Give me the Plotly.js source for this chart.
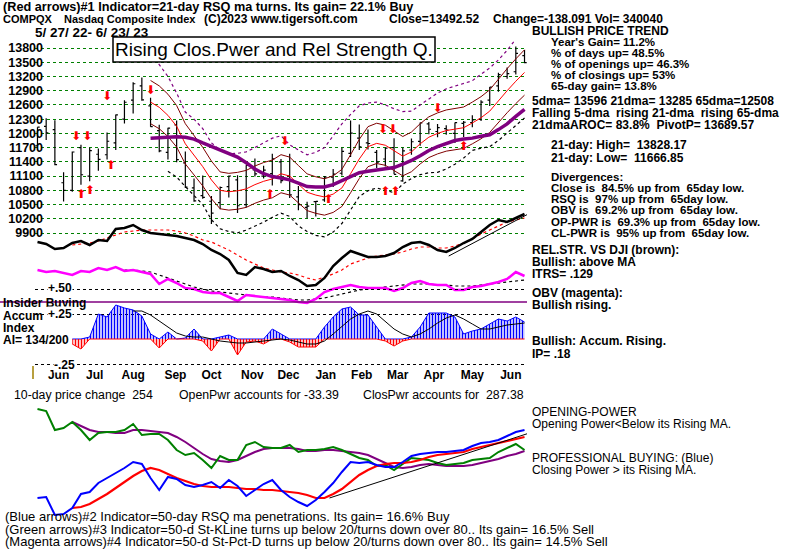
<!DOCTYPE html>
<html><head><meta charset="utf-8">
<script src="https://cdn.plot.ly/plotly-3.0.1.min.js"></script>
<style>html,body{margin:0;padding:0;background:#fff}#chart{width:800px;height:549px}</style>
</head><body><div id="chart"></div>
<script>
// ---------- DATA (weekly readings, week ending Friday) ----------
const weeks = ['2022-05-27','2022-06-03','2022-06-10','2022-06-17','2022-06-24','2022-07-01','2022-07-08','2022-07-15','2022-07-22','2022-07-29',
'2022-08-05','2022-08-12','2022-08-19','2022-08-26','2022-09-02','2022-09-09','2022-09-16','2022-09-23','2022-09-30','2022-10-07',
'2022-10-14','2022-10-21','2022-10-28','2022-11-04','2022-11-11','2022-11-18','2022-11-25','2022-12-02','2022-12-09','2022-12-16',
'2022-12-23','2022-12-30','2023-01-06','2023-01-13','2023-01-20','2023-01-27','2023-02-03','2023-02-10','2023-02-17','2023-02-24',
'2023-03-03','2023-03-10','2023-03-17','2023-03-24','2023-03-31','2023-04-07','2023-04-14','2023-04-21','2023-04-28','2023-05-05',
'2023-05-12','2023-05-19','2023-05-26','2023-06-02','2023-06-09','2023-06-16','2023-06-23'];
const priceOpen = [11740,12150,12080,10960,10800,11700,11100,11560,11550,11800,12300,12700,13000,12580,12060,11600,12180,11380,10850,10690,10570,10540,10880,11020,10500,11230,11100,11150,11400,11100,10660,10440,10560,10600,11080,11160,11580,11900,11800,11600,11460,11700,11000,11650,11830,12200,12040,12100,12000,12210,12230,12300,12700,13000,13200,13300,13640];
const priceHigh = [12131,12320,12275,11180,11620,11760,11700,11680,12020,12400,12700,13080,13181,12750,12180,12120,12270,11620,11050,11115,10680,10880,11110,11120,11330,11470,11320,11570,11460,11570,10890,10560,10570,11100,11250,11700,12270,12190,12080,11650,11700,11900,11700,11890,12230,12240,12200,12170,12230,12260,12380,12700,12980,13280,13390,13830,13760];
const priceLow = [11740,11860,11330,10565,10770,10920,10990,11215,11450,11650,12210,12420,12690,12140,11600,11450,11390,10850,10560,10620,10090,10400,10650,10320,10440,11090,11050,10900,10950,10640,10380,10210,10250,10560,10870,11110,11500,11650,11660,11270,11300,11140,10980,11550,11740,11980,11920,11970,11800,11925,12130,12260,12580,12880,13150,13240,13480];
const priceClose = [12131,12013,11340,10798,11608,11128,11635,11452,11834,12391,12657,13047,12705,12142,11631,12112,11448,10868,10576,10652,10321,10860,11102,10475,11324,11146,11226,11462,11005,10705,10498,10466,10569,11079,11140,11622,12007,11718,11787,11395,11689,11138,11631,11824,12222,12088,12123,12072,12227,12235,12284,12658,12975,13241,13259,13689,13492];
const N13 = [null,null,null,null,null,null,null,null,null,null,null,null,null];
const ma21 = N13.concat([12660,12550,12380,12150,11780,11550,11300,11020,10800,10770,10790,10830,10920,10990,11040,11150,11100,10930,10760,10700,10660,10720,10850,11150,11460,11720,11790,11750,11640,11520,11610,11780,11920,12000,12060,12090,12120,12220,12330,12470,12690,12900,13100,13285]);
const ma65 = N13.concat([11900,11910,11920,11930,11920,11880,11800,11720,11650,11580,11500,11380,11250,11150,11090,11060,11020,10950,10880,10870,10870,10920,11000,11100,11170,11200,11230,11260,11280,11350,11430,11530,11640,11720,11790,11850,11880,11900,11940,11970,12080,12200,12360,12508]);
const bandUpperOuter = N13.concat([13650,13450,13200,12850,12450,12300,12100,11800,11650,11570,11580,11610,11700,11800,11900,11950,11760,11650,11550,11600,11700,11950,12200,12400,12580,12640,12660,12600,12520,12460,12470,12600,12720,12850,12940,13000,13050,13110,13250,13380,13550,13750,13990,14050]);
const bandLowerOuter = N13.concat([null,null,11200,11080,10880,10700,10500,10180,9990,9930,9905,9960,10040,10130,10230,10320,10250,10050,9930,9850,9820,9920,10100,10400,10670,10790,10850,10800,10750,10930,11050,11130,11170,11180,11250,11350,11480,11640,11690,11720,11850,12010,12170,12324]);
const innerBandPct = 0.036;
const priceTicks = [9900,10200,10500,10800,11100,11400,11700,12000,12300,12600,12900,13200,13500,13800];
// relative strength vs DJI (arbitrary index units) and its MA
const relStr = [58,56,51,52,57,59,55,60,59,71,72,75,70,67,66,65,64,62,60,56,50,46,40,27,25,33,31,28,29,24,20,14,15,22,34,42,49,46,43,43,44,47,53,57,58,55,50,48,52,57,61,68,75,80,78,82,86];
const relStrMA = [null,null,null,null,55,56,57,59,62,65,68,69,70,70,70,70,69,67,64,60,58,54,50,45,40,36,32,30,28,27,25,22,20,23,26,30,36,39,42,44,45,46,48,51,53,53,52,52,54,57,61,66,70,74,78,80,82];
const relStrTrendDates = ['2023-04-23','2023-06-26'];
const relStrTrend = [44,86];
// OBV (magenta, arbitrary index units) and its MA
const obv = [30,28,29,27,25,29,28,32,30,33,29,30,28,26,16,21,17,12,11,8,7,7,3,-1,5,4,3,2,1,0,-2,-3,1,8,11,13,15,13,12,12,12,9,12,17,19,16,15,15,10,10,13,14,16,18,21,28,24];
const obvMA = [null,null,null,null,null,null,null,null,null,null,30,30,29,28,25,22,19,16,13,11,9,8,7,6,5,4,3,3,2,1,0,0,1,2,4,6,8,10,11,12,13,14,15,16,16,16,15,15,14,14,14,15,16,17,18,19,20];
// Accumulation index
const accum = [null,null,null,null,-0.05,-0.1,0.02,0.25,0.22,0.34,0.31,0.29,0.23,0.05,-0.09,0.07,0.0,0.01,0.1,-0.02,-0.12,0.02,0.04,-0.16,-0.03,-0.02,-0.05,0.1,0.05,-0.03,-0.08,-0.08,-0.08,0.12,0.22,0.3,0.32,0.24,0.24,0.12,-0.02,-0.07,-0.02,0.02,0.12,0.26,0.26,0.26,0.22,0.05,0.08,0.1,0.15,0.2,0.18,0.22,0.17];
const accumMA = [null,null,null,null,null,null,null,null,null,null,null,0.28,0.28,0.24,0.18,0.12,0.06,0.03,0.02,0.02,0.0,-0.02,-0.03,-0.04,-0.04,-0.03,-0.02,-0.01,0.0,-0.01,-0.03,-0.05,-0.05,-0.02,0.05,0.13,0.2,0.25,0.28,0.25,0.17,0.1,0.05,0.02,0.05,0.1,0.16,0.21,0.24,0.2,0.15,0.1,0.1,0.12,0.14,0.15,0.16];
const insiderLevel = 0.37;
// Opening / closing power (arbitrary index units)
const openPwr = [91,89,70,72,78,70,60,67,68,68,70,76,65,66,66,60,50,45,47,40,32,44,40,40,55,58,53,52,52,55,48,50,50,51,53,50,46,42,40,34,35,30,36,42,41,40,37,35,36,37,40,41,42,48,52,56,50];
const openPwrMA = [null,null,null,null,78,74,70,68,68,67,67,70,70,69,68,67,63,58,52,46,41,39,38,40,44,48,51,52,52,52,51,49,49,50,50,49,48,47,45,41,37,33,32,33,35,36,35,34,34,34,35,37,39,41,44,46,49];
const closePwr = [2,3,-15,-14,-8,6,8,17,22,27,32,38,36,22,10,23,21,15,13,15,18,12,20,14,4,10,16,20,10,3,-2,-6,0,8,17,28,38,37,38,35,33,33,38,44,46,47,48,48,49,50,54,57,58,60,64,68,70];
const closePwrMA = [null,null,null,null,-8,-7,-4,1,6,12,18,24,29,32,30,26,22,19,16,14,13,13,13,12,11,11,10,10,9,8,7,5,2,2,6,11,18,25,30,34,36,37,37,38,40,43,45,46,47,48,51,53,55,57,59,61,63];
const pwrTrendDates = ['2023-01-17','2023-06-27'];
const pwrTrend = [2,67];
// signal arrows
const sellDates = ['2022-06-27','2022-07-06','2022-07-22','2022-08-26','2022-12-12','2023-03-01','2023-03-09','2023-04-14'];
const sellPrices = [11924,11924,12767,12894,11818,12071,12071,12514];
const buyDates = ['2022-07-01','2022-07-08','2022-07-25','2022-11-30','2023-01-16','2023-03-03','2023-03-11','2023-05-05'];
const buyPrices = [10701,10786,11313,10701,10596,10765,10765,11713];
const monthTickDates = ['2022-06-13','2022-07-12','2022-08-12','2022-09-15','2022-10-14','2022-11-16','2022-12-15','2023-01-14','2023-02-12','2023-03-13','2023-04-11','2023-05-12','2023-06-12'];
const monthLabels = ['Jun','Jul','Aug','Sep','Oct','Nov','Dec','Jan','Feb','Mar','Apr','May','Jun'];

// ---------- FIGURE ----------
const W = 800, H = 549;
const FONT = 'Liberation Sans, Arial, sans-serif';
const py = y => 1 - y / H;
const bandUp = ma21.map(v => v == null ? null : v * (1 + innerBandPct));
const bandDn = ma21.map(v => v == null ? null : v * (1 - innerBandPct));
const accPos = accum.map(v => v == null ? null : Math.max(v, 0));
const accNeg = accum.map(v => v == null ? null : Math.min(v, 0));

const L = (y, color, width, yaxis, dash) => ({type:'scatter', mode:'lines', x:weeks, y, yaxis, xaxis:'x',
  line:{color, width, dash: dash || 'solid'}, hoverinfo:'skip'});

const traces = [
  L(bandUpperOuter, '#800080', 1.2, 'y', 'dot'),
  L(bandLowerOuter, '#000000', 1.2, 'y', 'dot'),
  L(bandUp, '#800000', 1, 'y'),
  L(bandDn, '#800000', 1, 'y'),
  L(ma21, '#ff0000', 1, 'y'),
  L(ma65, '#800080', 3.5, 'y'),
  {type:'ohlc', x:weeks, open:priceOpen, high:priceHigh, low:priceLow, close:priceClose, xaxis:'x', yaxis:'y',
   increasing:{line:{color:'#000', width:1.2}}, decreasing:{line:{color:'#000', width:1.2}}, tickwidth:0.25, hoverinfo:'skip'},
  L(relStrMA, '#ff0000', 1.2, 'y2', 'dot'),
  L(relStr, '#000000', 2.5, 'y2'),
  {type:'scatter', mode:'lines', x:relStrTrendDates, y:relStrTrend, xaxis:'x', yaxis:'y2', line:{color:'#000', width:1}, hoverinfo:'skip'},
  L(obvMA, '#000000', 1.2, 'y3', 'dot'),
  L(obv, '#ff00ff', 2.5, 'y3'),
  {type:'scatter', mode:'text', x:sellDates, y:sellPrices, text:sellDates.map(()=> '\u2B07'), xaxis:'x', yaxis:'y',
   textfont:{family:'DejaVu Sans', size:12, color:'#ff0000'}, hoverinfo:'skip'},
  {type:'scatter', mode:'text', x:buyDates, y:buyPrices, text:buyDates.map(()=> '\u2B06'), xaxis:'x', yaxis:'y',
   textfont:{family:'DejaVu Sans', size:12, color:'#ff0000'}, hoverinfo:'skip'},
  {type:'scatter', mode:'lines', x:weeks, y:accPos, xaxis:'x', yaxis:'y4', fill:'tozeroy',
   fillcolor:'rgba(0,0,0,0)', fillpattern:{shape:'|', fgcolor:'#0000ff', bgcolor:'rgba(255,255,255,0)', size:3, solidity:0.5},
   line:{color:'#0000ff', width:1}, hoverinfo:'skip'},
  {type:'scatter', mode:'lines', x:weeks, y:accNeg, xaxis:'x', yaxis:'y4', fill:'tozeroy',
   fillcolor:'rgba(0,0,0,0)', fillpattern:{shape:'|', fgcolor:'#ff0000', bgcolor:'rgba(255,255,255,0)', size:3, solidity:0.5},
   line:{color:'#ff0000', width:1}, hoverinfo:'skip'},
  L(accumMA, '#000000', 1, 'y4'),
  L(openPwrMA, '#800080', 2, 'y5'),
  L(openPwr, '#008000', 2, 'y5'),
  L(closePwrMA, '#ff0000', 2.2, 'y5'),
  L(closePwr, '#0000ff', 2, 'y5'),
  {type:'scatter', mode:'lines', x:pwrTrendDates, y:pwrTrend, xaxis:'x', yaxis:'y5', line:{color:'#000', width:1}, hoverinfo:'skip'}
];

const nb = s => s.replace(/ /g, '\u00A0');
const T = (x, y, text, size, bold, extra) => Object.assign({xref:'paper', yref:'paper', x:x/W, y:py(y),
  xanchor:'left', yanchor:'middle', text:nb(text), showarrow:false, borderpad:0,
  font:{family:FONT, size:size||12, color:'#000', weight: bold ? 700 : 400}}, extra || {});

const annotations = [
  T(2, 7, '(Red arrows)#1 Indicator=21-day RSQ ma turns. Its gain= 22.1% Buy', 12.7, true),
  T(2, 19, 'COMPQX', 11, true),
  T(63, 19, 'Nasdaq Composite Index', 11, true),
  T(203, 19, '(C)2023 www.tigersoft.com', 12, true),
  T(388, 19, 'Close=', 12, true),
  T(428, 19, '13492.52', 12, true),
  T(492, 19, 'Change=-138.091 Vol= 340040', 12, true),
  T(34, 32, '5/ 27/ 22- 6/ 23/ 23', 13.5, true),
  {xref:'paper', yref:'paper', x:274/W, y:py(49.5), xanchor:'center', yanchor:'middle', showarrow:false,
   text:'Rising Clos.Pwer and Rel Strength Q.', font:{family:FONT, size:19, color:'#000'}},
  T(531, 31, 'BULLISH PRICE TREND', 12, true),
  T(550, 42, "Year's Gain= 11.2%", 11.5, true),
  T(550, 53, '% of days up= 48.5%', 11.5, true),
  T(550, 64, '% of openings up= 46.3%', 11.5, true),
  T(550, 75, '% of closings up= 53%', 11.5, true),
  T(550, 86, '65-day gain= 13.8%', 11.5, true),
  T(531, 101, '5dma= 13596 21dma= 13285 65dma=12508', 12, true),
  T(531, 113, 'Falling 5-dma  rising 21-dma  rising 65-dma', 12, true),
  T(531, 125, '21dmaAROC= 83.8%  PivotP= 13689.57', 12, true),
  T(550, 145, '21-day: High=  13828.17', 12, true),
  T(550, 158, '21-day: Low=  11666.85', 12, true),
  T(550, 177, 'Divergences:', 11.5, true),
  T(550, 188, 'Close is  84.5% up from  65day low.', 11.5, true),
  T(550, 199, 'RSQ is  97% up from  65day low.', 11.5, true),
  T(550, 210, 'OBV is  69.2% up from  65day low.', 11.5, true),
  T(550, 222, 'OP-PWR is  69.3% up from  65day low.', 11.5, true),
  T(550, 233, 'CL-PWR is  95% up from  65day low.', 11.5, true),
  T(531, 250, 'REL.STR. VS DJI (brown):', 12, true),
  T(531, 262, 'Bullish: above MA', 12, true),
  T(531, 274, 'ITRS= .129', 12, true),
  T(531, 293, 'OBV (magenta):', 12, true),
  T(531, 305, 'Bullish rising.', 12, true),
  T(531, 341, 'Bullish: Accum. Rising.', 12, true),
  T(531, 354, 'IP= .18', 12, true),
  T(2, 303, 'Insider Buying', 12, true),
  T(2, 316, 'Accum', 12, true),
  T(2, 328, 'Index', 12, true),
  T(2, 340, 'AI= 134/200', 12, true),
  T(47, 288, '+.50', 12, true, {bgcolor:'#fff'}),
  T(47, 314, '+.25', 12, true, {bgcolor:'#fff'}),
  T(53, 365, '-.25', 12, true, {bgcolor:'#fff'}),
  T(13, 395, '10-day price change  254', 12.3, false),
  T(178, 395, 'OpenPwr accounts for -33.39', 12.3, false),
  T(362, 395, 'ClosPwr accounts for  287.38', 12.3, false),
  T(531, 412, 'OPENING-POWER', 12, false),
  T(531, 424, 'Opening Power&lt;Below its Rising MA.', 12, false),
  T(531, 458, 'PROFESSIONAL BUYING: (Blue)', 12, false),
  T(531, 470, 'Closing Power &gt; its Rising MA.', 12, false),
  T(4, 516, '(Blue arrows)#2 Indicator=50-day RSQ ma penetrations. Its gain= 16.6% Buy', 13, false),
  T(4, 529, '(Green arrows)#3 Indicator=50-d St-KLine turns up below 20/turns down over 80.. Its gain= 16.5% Sell', 13, false),
  T(4, 541.5, '(Magenta arrows)#4 Indicator=50-d St-Pct-D turns up below 20/turns down over 80.. Its gain= 14.5% Sell', 13, false)
];

const shapes = [
  {type:'rect', xref:'paper', yref:'paper', x0:113/W, x1:435/W, y0:py(62), y1:py(37), fillcolor:'#fff', line:{color:'#000', width:1.5}, layer:'above'},
  {type:'line', xref:'paper', yref:'y4', x0:0, x1:527/W, y0:insiderLevel, y1:insiderLevel, line:{color:'#800080', width:1.5}},
  {type:'line', xref:'paper', yref:'paper', x0:33/W, x1:33/W, y0:py(379), y1:py(366), line:{color:'#a08000', width:1.5}}
];

const layout = {
  width:W, height:H, margin:{l:0, r:0, t:0, b:0}, paper_bgcolor:'#fff', plot_bgcolor:'rgba(0,0,0,0)',
  showlegend:false, font:{family:FONT, color:'#000'},
  xaxis:{type:'date', domain:[35/W, 527/W], range:['2022-05-25','2023-06-25'], anchor:'y4',
    showgrid:false, zeroline:false, showline:false, ticks:'', rangeslider:{visible:false},
    tickmode:'array', tickvals:monthTickDates, ticktext:monthLabels, ticklabelstandoff:-4,
    tickfont:{family:FONT, size:12, weight:700, color:'#000'}},
  yaxis:{domain:[py(310), py(40)], range:[8277, 13969], anchor:'free', position:43/W,
    tickmode:'array', tickvals:priceTicks, ticktext:priceTicks.map(String), ticks:'',
    showgrid:true, gridcolor:'#008000', gridwidth:1, griddash:'dot', zeroline:false, showline:false,
    tickfont:{family:FONT, size:12.5, weight:700, color:'#000'}},
  yaxis2:{overlaying:'y', range:[-10, 260], visible:false},
  yaxis3:{overlaying:'y', range:[-10, 260], visible:false},
  yaxis4:{domain:[py(370), py(280)], range:[-0.31, 0.59], anchor:'x', tickmode:'array', tickvals:[-0.25, 0.25, 0.5],
    showticklabels:false, ticks:'', showgrid:true, gridcolor:'#000', griddash:'dot', gridwidth:1, zeroline:false, showline:false},
  yaxis5:{domain:[py(522), py(398)], range:[-22, 102], anchor:'x', visible:false},
  annotations, shapes
};

Plotly.newPlot('chart', traces, layout, {displayModeBar:false, staticPlot:true});
</script></body></html>
